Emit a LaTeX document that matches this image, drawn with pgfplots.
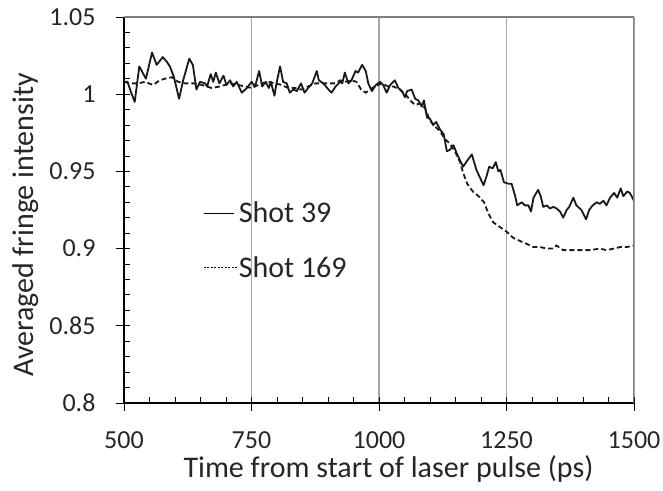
\documentclass[border=0pt]{standalone}
\usepackage{pgfplots}
\pgfplotsset{compat=1.18}
\usepackage{fontspec}
\setmainfont{Carlito}
\definecolor{txt}{HTML}{262626}
\definecolor{gridc}{HTML}{A6A6A6}
\definecolor{bord}{HTML}{808080}
\begin{document}
\begin{tikzpicture}
\begin{axis}[
  name=ax,
  scale only axis,
  width=510pt, height=386pt,
  xmin=500, xmax=1500, ymin=0.8, ymax=1.05,
  axis x line*=bottom, axis y line*=left,
  axis line style={black, line width=1.1pt, -},
  xtick={500,750,1000,1250,1500},
  ytick={0.8,0.85,0.9,0.95,1,1.05},
  yticklabels={0.8,0.85,0.9,0.95,1,1.05},
  minor x tick num=4, minor y tick num=4,
  tick align=inside,
  major tick length=14pt, minor tick length=6pt,
  every major x tick/.append style={yshift=-8pt},
  every major y tick/.append style={xshift=-8pt},
  tick style={black, line width=0.9pt},
  xmajorgrids,
  grid style={gridc, line width=1.2pt},
  font=\fontsize{26}{31}\selectfont,
  /pgf/number format/assume math mode=true,
  /pgf/number format/1000 sep={},
  ticklabel style={text=txt, font=\fontsize{26}{31}\selectfont},
  xticklabel style={yshift=-25pt},
  yticklabel style={xshift=-25pt},
  xlabel={Time from start of laser pulse (ps)},
  ylabel={Averaged fringe intensity},
  every axis x label/.style={at={(axis description cs:0.5186,-0.194)}, anchor=base, text=txt, font=\fontsize{30}{36}\selectfont},
  every axis y label/.style={at={(axis description cs:-0.1784,0.461)}, rotate=90, anchor=base, text=txt, font=\fontsize{30}{36}\selectfont},
  legend style={at={(axis description cs:0.155,0.525)}, anchor=north west, draw=none, fill=none,
    font=\fontsize{30}{36}\selectfont, text=txt, row sep=29pt, inner sep=0pt,
    nodes={inner sep=1.5pt}},
  legend cell align=left,
]
\addplot[color=black!90, line width=1.8pt, line join=round,
  legend image code/.code={\draw[black, line width=1.2pt] (0pt,0pt) -- (30pt,0pt);}]
coordinates {
(500,1.008)(507,1.008)(513,1.002)(521,0.995)(530,1.018)(543,1.010)(555,1.027)(564,1.019)(576,1.024)(584,1.021)(590,1.018)(598,1.011)(608,0.997)(616,1.009)(628,1.023)(635,1.019)(642,1.003)(649,1.008)(659,1.007)(663,1.005)(670,1.013)(675,1.008)(680,1.014)(687,1.007)(695,1.012)(701,1.006)(708,1.009)(714,1.005)(721,1.008)(731,1.001)(741,1.004)(750,1.008)(757,1.005)(765,1.015)(771,1.005)(778,1.008)(784,1.004)(788,1.008)(795,0.999)(799,1.007)(806,1.018)(812,1.008)(819,1.007)(825,1.001)(832,1.003)(839,1.002)(847,1.007)(854,1.001)(861,1.004)(869,1.007)(878,1.015)(882,1.009)(891,1.007)(901,1.003)(907,1.001)(915,1.005)(924,1.008)(928,1.007)(933,1.014)(940,1.007)(946,1.009)(954,1.015)(959,1.014)(967,1.019)(974,1.015)(979,1.007)(986,1.002)(994,1.006)(1002,1.008)(1008,1.006)(1015,1.001)(1022,1.006)(1031,1.009)(1038,1.004)(1045,1.002)(1051,0.998)(1055,1.002)(1064,1.003)(1071,0.997)(1077,0.996)(1084,0.992)(1088,0.996)(1094,0.985)(1100,0.984)(1106,0.980)(1112,0.982)(1120,0.977)(1127,0.974)(1133,0.963)(1139,0.964)(1146,0.967)(1152,0.962)(1159,0.957)(1165,0.953)(1173,0.957)(1182,0.961)(1191,0.951)(1205,0.941)(1211,0.947)(1216,0.953)(1223,0.952)(1229,0.956)(1234,0.950)(1238,0.951)(1245,0.943)(1254,0.942)(1260,0.942)(1267,0.934)(1271,0.928)(1280,0.930)(1286,0.928)(1293,0.928)(1298,0.924)(1303,0.933)(1312,0.938)(1317,0.934)(1322,0.927)(1329,0.928)(1335,0.926)(1342,0.927)(1348,0.926)(1355,0.924)(1361,0.920)(1368,0.925)(1373,0.927)(1381,0.933)(1387,0.928)(1397,0.925)(1406,0.919)(1412,0.925)(1419,0.928)(1427,0.930)(1433,0.929)(1440,0.931)(1446,0.928)(1453,0.933)(1461,0.936)(1467,0.933)(1474,0.939)(1479,0.934)(1487,0.937)(1492,0.936)(1500,0.931)
};
\addlegendentry{Shot 39}
\addplot[color=black!90, line width=1.8pt, dash pattern=on 5pt off 3pt,
  legend image code/.code={\draw[black, line width=1pt, dash pattern=on 2pt off 1.5pt] (0pt,0pt) -- (33pt,0pt);}]
coordinates {
(500,1.008)(512,1.007)(528,1.007)(541,1.008)(557,1.006)(570,1.009)(580,1.010)(594,1.011)(606,1.008)(620,1.007)(636,1.007)(652,1.006)(672,1.004)(688,1.005)(708,1.007)(724,1.006)(737,1.005)(750,1.004)(770,1.007)(783,1.008)(796,1.007)(809,1.006)(822,1.004)(835,1.004)(848,1.003)(861,1.005)(875,1.007)(888,1.007)(901,1.007)(914,1.007)(924,1.009)(933,1.008)(946,1.009)(956,1.008)(965,1.003)(974,1.001)(982,1.003)(992,1.005)(1005,1.007)(1018,1.005)(1028,1.005)(1041,1.003)(1054,0.999)(1064,0.995)(1071,0.993)(1080,0.994)(1090,0.991)(1100,0.983)(1110,0.979)(1120,0.976)(1129,0.971)(1139,0.968)(1149,0.963)(1159,0.956)(1165,0.949)(1173,0.942)(1184,0.937)(1195,0.934)(1206,0.930)(1214,0.923)(1224,0.917)(1237,0.914)(1250,0.911)(1263,0.907)(1276,0.905)(1290,0.903)(1303,0.901)(1316,0.901)(1329,0.900)(1342,0.900)(1348,0.902)(1361,0.899)(1375,0.899)(1394,0.899)(1414,0.899)(1433,0.900)(1446,0.899)(1460,0.900)(1473,0.901)(1486,0.901)(1500,0.902)
};
\addlegendentry{Shot 169}
\draw[bord, line width=1.5pt] (rel axis cs:0,1) -- (rel axis cs:1,1) -- (rel axis cs:1,0);
\end{axis}
\pgfresetboundingbox
\path ([shift={(-124pt,-88pt)}]ax.south west) rectangle ([shift={(29pt,17pt)}]ax.north east);
\end{tikzpicture}
\end{document}
